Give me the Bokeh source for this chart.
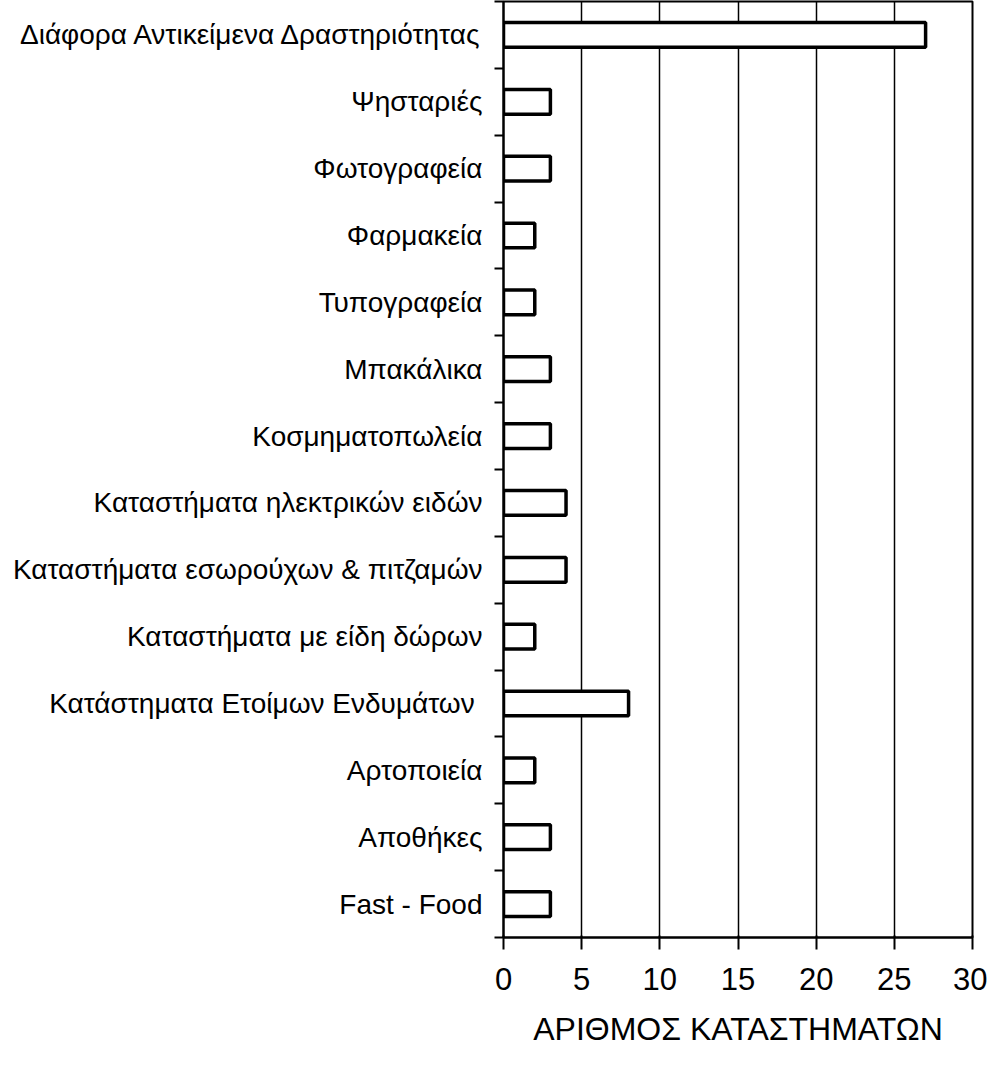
from bokeh.plotting import figure
from bokeh.models import FixedTicker, Range1d, ColumnDataSource
from bokeh.embed import file_html
from bokeh.resources import INLINE

# Data (bottom to top)
categories = [
    "Fast - Food",
    "Αποθήκες",
    "Αρτοποιεία",
    "Κατάστηματα  Ετοίμων Ενδυμάτων",
    "Καταστήματα με είδη δώρων",
    "Καταστήματα εσωρούχων & πιτζαμών",
    "Καταστήματα ηλεκτρικών ειδών",
    "Κοσμηματοπωλεία",
    "Μπακάλικα",
    "Τυπογραφεία",
    "Φαρμακεία",
    "Φωτογραφεία",
    "Ψησταριές",
    "Διάφορα Αντικείμενα Δραστηριότητας",
]
values = [3, 3, 2, 8, 2, 4, 4, 3, 3, 2, 2, 3, 3, 27]
x_ticks = [0, 5, 10, 15, 20, 25, 30]
x_title = "ΑΡΙΘΜΟΣ ΚΑΤΑΣΤΗΜΑΤΩΝ"

n = len(categories)
centers = [i + 0.5 for i in range(n)]
src = ColumnDataSource(dict(y=centers, v=values, cat=categories))

p = figure(width=987, height=1054, output_backend="svg", toolbar_location=None,
           title_location=None,
           x_range=Range1d(0, 30), y_range=Range1d(0, n))
p.min_border_left = 503
p.min_border_right = 15
p.min_border_top = 1
p.min_border_bottom = 117
p.background_fill_color = "white"
p.border_fill_color = "white"
p.outline_line_color = "black"
p.outline_line_width = 2

p.hbar(y="y", right="v", left=0, height=0.37, source=src,
       fill_color="white", line_color="black", line_width=3.5)

# x axis
p.xaxis.ticker = FixedTicker(ticks=x_ticks, minor_ticks=[])
p.xaxis.axis_line_color = "black"
p.xaxis.axis_line_width = 2
p.xaxis.major_tick_line_width = 2
p.xaxis.major_tick_out = 12
p.xaxis.major_tick_in = 2
p.xaxis.major_label_text_font = "Liberation Sans"
p.xaxis.major_label_text_font_size = "31px"
p.xaxis.major_label_text_color = "black"
p.xaxis.major_label_standoff = 18
p.xaxis.axis_label = x_title
p.xaxis.axis_label_text_font = "Liberation Sans"
p.xaxis.axis_label_text_font_size = "32px"
p.xaxis.axis_label_text_font_style = "normal"
p.xaxis.axis_label_text_color = "black"
p.xaxis.axis_label_standoff = 18

# y axis: labels at centers, ticks at boundaries
p.yaxis.ticker = FixedTicker(ticks=centers, minor_ticks=list(range(n + 1)))
p.yaxis.major_label_overrides = {c: cat for c, cat in zip(centers, categories)}
p.yaxis.major_tick_out = 0
p.yaxis.major_tick_in = 0
p.yaxis.minor_tick_out = 9
p.yaxis.minor_tick_in = 0
p.yaxis.minor_tick_line_color = "black"
p.yaxis.minor_tick_line_width = 2
p.yaxis.axis_line_color = "black"
p.yaxis.axis_line_width = 2
p.yaxis.major_label_text_font = "Liberation Sans"
p.yaxis.major_label_text_font_size = "28px"
p.yaxis.major_label_text_color = "black"
p.yaxis.major_label_standoff = 12

# grid
p.xgrid.ticker = FixedTicker(ticks=[5, 10, 15, 20, 25])
p.xgrid.grid_line_color = "black"
p.xgrid.grid_line_width = 1.5
p.ygrid.grid_line_color = None

open("out.html", "w").write(file_html(p, INLINE))
